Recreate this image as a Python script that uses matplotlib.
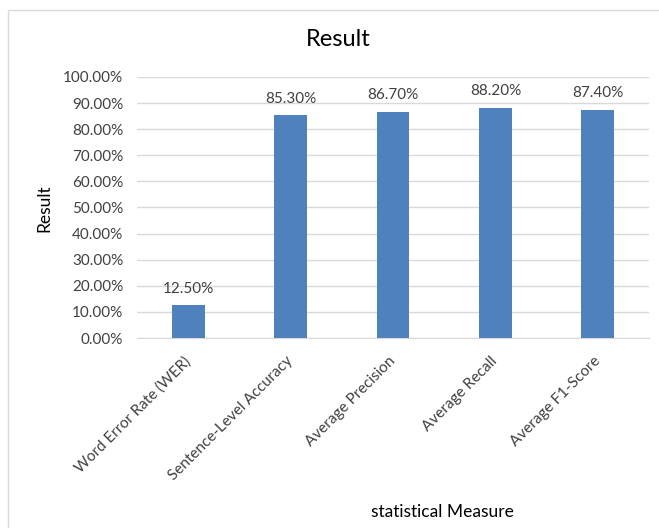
import matplotlib.pyplot as plt
from matplotlib.patches import Rectangle
from matplotlib.ticker import PercentFormatter

categories = ['Word Error Rate (WER)', 'Sentence-Level Accuracy', 'Average Precision',
              'Average Recall', 'Average F1-Score']
values = [12.5, 85.3, 86.7, 88.2, 87.4]
y_ticks = [0, 10, 20, 30, 40, 50, 60, 70, 80, 90, 100]

plt.rcParams['font.family'] = ['Lato', 'DejaVu Sans']
text_color = '#404040'

fig = plt.figure(figsize=(6.59, 5.28), dpi=100)
fig.patches.append(Rectangle((8 / 659, -0.01), 1.0, 1 - 10 / 528 + 0.01,
                             transform=fig.transFigure, fill=False,
                             edgecolor='#d9d9d9', lw=1))
ax = fig.add_axes([137 / 659, 190 / 528, 512 / 659, 261 / 528])

x = range(len(categories))
bars = ax.bar(x, values, width=0.32, color='#4f81bd', zorder=3)
for b, v in zip(bars, values):
    ax.annotate(f'{v:.2f}%', (b.get_x() + b.get_width() / 2, v),
                xytext=(0, 7), textcoords='offset points', ha='center', va='bottom',
                fontsize=11, color=text_color)

ax.set_xlim(-0.5, len(categories) - 0.5)
ax.set_ylim(0, 100)
ax.set_yticks(y_ticks)
ax.yaxis.set_major_formatter(PercentFormatter(decimals=2))
ax.grid(axis='y', color='#d9d9d9', lw=1, zorder=0)
for s in ['top', 'right', 'left']:
    ax.spines[s].set_visible(False)
ax.spines['bottom'].set_color('#d9d9d9')
ax.tick_params(axis='both', length=0, labelsize=11, colors=text_color)
ax.tick_params(axis='y', pad=10)
ax.set_xticks(list(x))
ax.set_xticklabels(categories, rotation=45, ha='right', va='center',
                   rotation_mode='anchor')
ax.tick_params(axis='x', pad=15)

fig.text(338 / 659, 1 - 40 / 528, 'Result', ha='center', va='center', fontsize=17,
         color='#000000')
fig.text(44 / 659, 1 - 208 / 528, 'Result', ha='center', va='center', rotation=90,
         fontsize=12.5, color='#000000')
fig.text(442 / 659, 1 - 512 / 528, 'statistical Measure', ha='center', va='center',
         fontsize=12.5, color='#000000')

fig.savefig('out.png', dpi=100)
